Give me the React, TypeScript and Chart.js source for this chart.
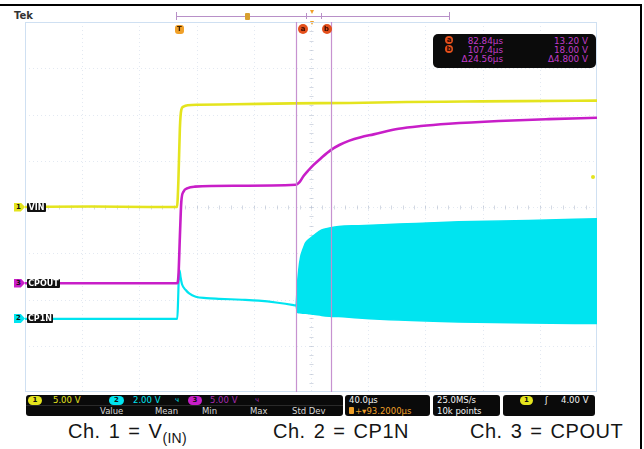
import React, { useEffect, useRef } from "react";
import { Chart, registerables } from "chart.js";
Chart.register(...registerables);

// ---------------- data ----------------
// time axis: 40 µs/div, 10 divisions, horizontal position +93.2 µs
const timePerDiv = 40;
const horizPos = 93.2;
const xDivisions = 10;
const yDivisions = 8;
const cursorTimes = [82.84, 107.4];

// Ch1 = VIN (5 V/div)
const ch1Time = [-106.8, -60, -20, -0.5, 0.5, 1.5, 2.5, 4, 7, 15, 40, 80, 120, 160, 200, 240, 293.2];
const ch1Volt = [0, 0.05, 0, 0, 3.0, 8.5, 10.5, 10.85, 11.0, 11.05, 11.1, 11.2, 11.25, 11.35, 11.4, 11.45, 11.5];

// Ch3 = CPOUT (5 V/div)
const ch3Time = [-106.8, -50, -0.5, 0.5, 1.5, 2.5, 4, 7, 12, 40, 82.5, 85, 88, 91.6, 95, 100, 107, 113, 119.6, 128, 137, 154.5, 170, 189.5, 224.5, 259.4, 293.2];
const ch3Volt = [0, 0, 0, 0.8, 5, 8.8, 9.9, 10.3, 10.45, 10.55, 10.65, 10.9, 11.6, 12.25, 12.8, 13.5, 14.4, 14.95, 15.4, 15.8, 16.1, 16.7, 17.0, 17.25, 17.55, 17.75, 17.9];

// Ch2 = CP1N (2 V/div) before switching starts
const ch2Time = [-106.8, -40, -0.3, 0.3, 0.8, 1.3, 2, 3, 5.6, 8, 12.6, 20, 28.7, 45, 56.6, 70, 81, 82.8];
const ch2Volt = [0, 0, 0, 0.9, 1.9, 2.1, 1.8, 1.5, 1.25, 1.1, 0.96, 0.9, 0.87, 0.83, 0.79, 0.7, 0.6, 0.58];

// Ch2 switching envelope (upper / lower)
const ch2EnvTime = [82.8, 83.6, 84.6, 86, 87.5, 89.5, 92, 95, 100.7, 106, 112.6, 126.6, 154.5, 196.5, 245.5, 293.2];
const ch2Upper = [0.58, 1.4, 2.1, 2.7, 3.0, 3.3, 3.45, 3.6, 3.85, 3.93, 4.0, 4.03, 4.1, 4.2, 4.26, 4.33];
const ch2Lower = [0.58, 0.3, 0.27, 0.26, 0.25, 0.24, 0.22, 0.2, 0.15, 0.12, 0.1, 0.04, -0.05, -0.13, -0.18, -0.2];

// channel vertical settings: volts/div and ground position (divisions from centre)
const ch1Scale = { vdiv: 5, pos: 0 };
const ch2Scale = { vdiv: 2, pos: -2.42 };
const ch3Scale = { vdiv: 5, pos: -1.65 };

const readoutRows = [
  { mark: "a", time: "82.84µs", volt: "13.20 V" },
  { mark: "b", time: "107.4µs", volt: "18.00 V" },
  { mark: "", time: "Δ24.56µs", volt: "Δ4.800 V" },
];
const measLabels = ["Value", "Mean", "Min", "Max", "Std Dev"];

// ---------------- styles ----------------
const YEL = "#e4e41e";
const MAG = "#c81ec8";
const CYA = "#00e4f0";
const CUR = "rgba(196,140,206,0.95)";
const ORANGE = "#f0a028";
const RED = "#e4501c";

const tMin = horizPos - (timePerDiv * xDivisions) / 2;
const tMax = horizPos + (timePerDiv * xDivisions) / 2;
const rng = (c: { vdiv: number; pos: number }) => ({
  min: (-yDivisions / 2 - c.pos) * c.vdiv,
  max: (yDivisions / 2 - c.pos) * c.vdiv,
});

const mk = (t: number[], v: number[]) => t.map((x, i) => ({ x, y: v[i] }));

const gridPlugin = {
  id: "scopeGrid",
  beforeDatasetsDraw(chart: any) {
    const { ctx, chartArea: a, scales } = chart;
    const xs = scales.x;
    const ys = scales.y1;
    const r1 = rng(ch1Scale);
    ctx.save();
    ctx.lineWidth = 1;
    ctx.strokeStyle = "rgba(185,200,222,0.4)";
    ctx.setLineDash([1, 3]);
    for (let i = 1; i < xDivisions; i++) {
      const x = Math.round(xs.getPixelForValue(tMin + i * timePerDiv)) + 0.5;
      ctx.beginPath();
      ctx.moveTo(x, a.top);
      ctx.lineTo(x, a.bottom);
      ctx.stroke();
    }
    for (let j = 1; j < yDivisions; j++) {
      const y = Math.round(ys.getPixelForValue(r1.min + j * ch1Scale.vdiv)) + 0.5;
      ctx.beginPath();
      ctx.moveTo(a.left, y);
      ctx.lineTo(a.right, y);
      ctx.stroke();
    }
    // centre axes minor ticks
    ctx.setLineDash([]);
    ctx.strokeStyle = "rgba(170,180,200,0.5)";
    const cx = Math.round(xs.getPixelForValue(horizPos)) + 0.5;
    const cy = Math.round(ys.getPixelForValue(0)) + 0.5;
    for (let k = 0; k <= xDivisions * 5; k++) {
      const x = Math.round(xs.getPixelForValue(tMin + (k * timePerDiv) / 5)) + 0.5;
      ctx.beginPath();
      ctx.moveTo(x, cy - 2);
      ctx.lineTo(x, cy + 2);
      ctx.stroke();
    }
    for (let k = 0; k <= yDivisions * 5; k++) {
      const y = Math.round(ys.getPixelForValue(r1.min + (k * ch1Scale.vdiv) / 5)) + 0.5;
      ctx.beginPath();
      ctx.moveTo(cx - 2, y);
      ctx.lineTo(cx + 2, y);
      ctx.stroke();
    }
    ctx.strokeStyle = "#cfe0f2";
    ctx.strokeRect(a.left + 0.5, a.top + 0.5, a.right - a.left - 1, a.bottom - a.top - 1);
    ctx.restore();
  },
};

const cursorPlugin = {
  id: "scopeCursors",
  afterDatasetsDraw(chart: any) {
    const { ctx, chartArea: a, scales } = chart;
    ctx.save();
    ctx.strokeStyle = CUR;
    ctx.lineWidth = 1.2;
    cursorTimes.forEach((t) => {
      const x = Math.round(scales.x.getPixelForValue(t)) + 0.5;
      ctx.beginPath();
      ctx.moveTo(x, a.top);
      ctx.lineTo(x, a.bottom);
      ctx.stroke();
    });
    ctx.restore();
  },
};

const abs = (s: React.CSSProperties): React.CSSProperties => ({ position: "absolute", ...s });

const Badge = ({ left, top, color, text, w = 11 }: any) => (
  <div
    style={abs({
      left, top, width: w, height: 9, background: color,
      clipPath: "polygon(0 0, 62% 0, 100% 50%, 62% 100%, 0 100%)",
      font: "bold 7px 'DejaVu Sans'", lineHeight: "9px", color: "#111", paddingLeft: 2, boxSizing: "border-box",
    })}
  >
    {text}
  </div>
);

const ChLabel = ({ left, top, text, width }: any) => (
  <div
    style={abs({
      left, top, width, height: 9, background: "#111", color: "#fff",
      font: "bold 8px 'DejaVu Sans'", lineHeight: "9px", textAlign: "center", borderRadius: 1,
    })}
  >
    {text}
  </div>
);

const Oval = ({ left, top, color, text, w = 14 }: any) => (
  <div
    style={abs({
      left, top, width: w, height: 9, borderRadius: 5, background: color, color: "#111",
      font: "bold 7px 'DejaVu Sans'", lineHeight: "9px", textAlign: "center",
    })}
  >
    {text}
  </div>
);

const Txt = ({ left, top, color, size = 9, children, weight = "normal", right }: any) => (
  <div
    style={abs({
      left, right, top, color, font: `${weight} ${size}px 'DejaVu Sans'`, lineHeight: "10px", whiteSpace: "nowrap",
    })}
  >
    {children}
  </div>
);

export default function App() {
  const ref = useRef<HTMLCanvasElement | null>(null);
  useEffect(() => {
    document.body.style.margin = "0";
    const r1 = rng(ch1Scale), r2 = rng(ch2Scale), r3 = rng(ch3Scale);
    const chart = new Chart(ref.current as HTMLCanvasElement, {
      type: "line",
      data: {
        datasets: [
          { data: mk(ch1Time, ch1Volt), yAxisID: "y1", borderColor: YEL, borderWidth: 2.6, fill: false },
          { data: mk(ch3Time, ch3Volt), yAxisID: "y3", borderColor: MAG, borderWidth: 2.6, fill: false },
          { data: mk(ch2Time, ch2Volt), yAxisID: "y2", borderColor: CYA, borderWidth: 2.2, fill: false },
          { data: mk(ch2EnvTime, ch2Upper), yAxisID: "y2", borderColor: CYA, borderWidth: 1.5, backgroundColor: CYA, fill: "+1" },
          { data: mk(ch2EnvTime, ch2Lower), yAxisID: "y2", borderColor: CYA, borderWidth: 1.5, fill: false },
        ] as any,
      },
      options: {
        animation: false,
        responsive: false,
        events: [],
        layout: { padding: 0 },
        elements: { point: { radius: 0 }, line: { cubicInterpolationMode: "monotone" } },
        plugins: { legend: { display: false }, tooltip: { enabled: false } },
        scales: {
          x: { type: "linear", min: tMin, max: tMax, display: false },
          y1: { type: "linear", min: r1.min, max: r1.max, display: false },
          y2: { type: "linear", min: r2.min, max: r2.max, display: false },
          y3: { type: "linear", min: r3.min, max: r3.max, display: false },
        },
      } as any,
      plugins: [gridPlugin, cursorPlugin],
    });
    return () => chart.destroy();
  }, []);

  const capStyle: React.CSSProperties = {
    font: "20px 'Liberation Sans', Arial, sans-serif", lineHeight: "20px", color: "#151515",
    letterSpacing: "0.5px", wordSpacing: "2px", whiteSpace: "nowrap",
  };

  return (
    <div style={abs({ left: 0, top: 0, width: 644, height: 449, background: "#fff", overflow: "hidden" })}>
      {/* outer frame */}
      <div style={abs({ left: 0, top: 4, width: 642, height: 1.5, background: "#000" })} />
      <div style={abs({ left: 640, top: 4, width: 1.5, height: 445, background: "#000" })} />
      <Txt left={14} top={11} color="#333" size={10} weight="bold">Tek</Txt>

      {/* record bar */}
      <div style={abs({ left: 176, top: 16, width: 274, height: 1, background: "#b890c8" })} />
      <div style={abs({ left: 176, top: 12, width: 1, height: 8, background: "#b890c8" })} />
      <div style={abs({ left: 449, top: 12, width: 1, height: 8, background: "#b890c8" })} />
      <div style={abs({ left: 306, top: 13, width: 1, height: 6, background: "#b890c8" })} />
      <div style={abs({ left: 321, top: 13, width: 1, height: 6, background: "#b890c8" })} />
      <div style={abs({ left: 245, top: 13, width: 5, height: 7, background: "#d8a030", borderRadius: 1 })} />
      <div style={abs({ left: 309.5, top: 10, width: 0, height: 0, borderLeft: "2.5px solid transparent", borderRight: "2.5px solid transparent", borderTop: "4px solid " + ORANGE })} />
      <div style={abs({ left: 309.5, top: 21, width: 0, height: 0, borderLeft: "2.5px solid transparent", borderRight: "2.5px solid transparent", borderTop: "4px solid " + ORANGE })} />

      <canvas ref={ref} width={572} height={370} style={abs({ left: 25, top: 22, width: 572, height: 370 })} />

      {/* trigger / cursor markers */}
      <div style={abs({ left: 175, top: 25, width: 9, height: 9, borderRadius: 3, background: ORANGE, color: "#442200", font: "bold 7px 'DejaVu Sans'", lineHeight: "9px", textAlign: "center" })}>T</div>
      <div style={abs({ left: 298, top: 24, width: 10, height: 10, borderRadius: 5, background: RED, color: "#3a0a00", font: "bold 7px 'DejaVu Sans'", lineHeight: "10px", textAlign: "center" })}>a</div>
      <div style={abs({ left: 321.5, top: 24, width: 10, height: 10, borderRadius: 5, background: RED, color: "#3a0a00", font: "bold 7px 'DejaVu Sans'", lineHeight: "10px", textAlign: "center" })}>b</div>
      <div style={abs({ left: 591, top: 175, width: 4, height: 4, borderRadius: 2, background: YEL })} />

      {/* cursor readout */}
      <div style={abs({ left: 433, top: 34, width: 163, height: 34, background: "#0b0b0b", borderRadius: 5 })} />
      {readoutRows.map((r, i) => (
        <React.Fragment key={i}>
          {r.mark && (
            <div style={abs({ left: 445, top: 36 + i * 9.3, width: 8, height: 8, borderRadius: 4, background: RED, color: "#2a0500", font: "bold 7px 'DejaVu Sans'", lineHeight: "8px", textAlign: "center" })}>{r.mark}</div>
          )}
          <Txt right={644 - 503} top={35.5 + i * 9.3} color="#c03cc8" size={8.8}>{r.time}</Txt>
          <Txt right={644 - 588} top={35.5 + i * 9.3} color="#c03cc8" size={8.8}>{r.volt}</Txt>
        </React.Fragment>
      ))}

      {/* left channel labels */}
      <Badge left={14} top={202.5} color={YEL} text="1" />
      <ChLabel left={27} top={202.5} width={19} text="VIN" />
      <Badge left={14} top={278.5} color={MAG} text="3" />
      <ChLabel left={27} top={278.5} width={33} text="CPOUT" />
      <Badge left={14} top={314} color={CYA} text="2" />
      <ChLabel left={27} top={314} width={26} text="CP1N" />

      {/* bottom status bar */}
      <div style={abs({ left: 26, top: 395, width: 317, height: 21, background: "#0a0a0a", borderRadius: 3 })} />
      <div style={abs({ left: 26, top: 405, width: 317, height: 1, background: "#2a2a2a" })} />
      <Oval left={28} top={395.5} color={YEL} text="1" />
      <Txt left={53} top={395} color={YEL} size={8.5}>5.00 V</Txt>
      <Oval left={109} top={395.5} color={CYA} text="2" w={15} />
      <Txt left={133} top={395} color={CYA} size={8.5}>2.00 V</Txt>
      <Txt left={175} top={395} color={CYA} size={7}>ч</Txt>
      <Oval left={188} top={395.5} color={MAG} text="3" />
      <Txt left={210} top={395} color="#a52ab0" size={8.5}>5.00 V</Txt>
      <Txt left={255} top={395} color="#a52ab0" size={7}>ч</Txt>
      {measLabels.map((m, i) => (
        <Txt key={m} left={[100, 155, 202, 250, 292][i]} top={405.5} color="#d8d8d8" size={8.5}>{m}</Txt>
      ))}

      <div style={abs({ left: 345, top: 395, width: 85, height: 21, background: "#0a0a0a", borderRadius: 3 })} />
      <Txt left={349} top={395} color="#f4f4f4" size={8.5}>40.0µs</Txt>
      <div style={abs({ left: 349, top: 407, width: 5, height: 7, background: ORANGE, borderRadius: 1 })} />
      <Txt left={355} top={405.5} color={ORANGE} size={8.5}>+▾93.2000µs</Txt>

      <div style={abs({ left: 433, top: 395, width: 67, height: 21, background: "#0a0a0a", borderRadius: 3 })} />
      <Txt left={437} top={395} color="#f4f4f4" size={8.5}>25.0MS/s</Txt>
      <Txt left={437} top={405.5} color="#f4f4f4" size={8.5}>10k points</Txt>

      <div style={abs({ left: 503, top: 395, width: 92, height: 21, background: "#0a0a0a", borderRadius: 3 })} />
      <Oval left={520} top={395.5} color={YEL} text="1" w={13} />
      <Txt left={545} top={395} color="#f4f4f4" size={8.5}>ʃ</Txt>
      <Txt left={561} top={395} color="#f4f4f4" size={8.5}>4.00 V</Txt>

      {/* caption */}
      <div style={abs({ left: 68, top: 421, ...capStyle })}>
        Ch. 1 = V<sub style={{ fontSize: "14px", verticalAlign: "-5px", letterSpacing: "0.3px" }}>(IN)</sub>
      </div>
      <div style={abs({ left: 273, top: 421, ...capStyle })}>Ch. 2 = CP1N</div>
      <div style={abs({ left: 470, top: 421, ...capStyle })}>Ch. 3 = CPOUT</div>
    </div>
  );
}
